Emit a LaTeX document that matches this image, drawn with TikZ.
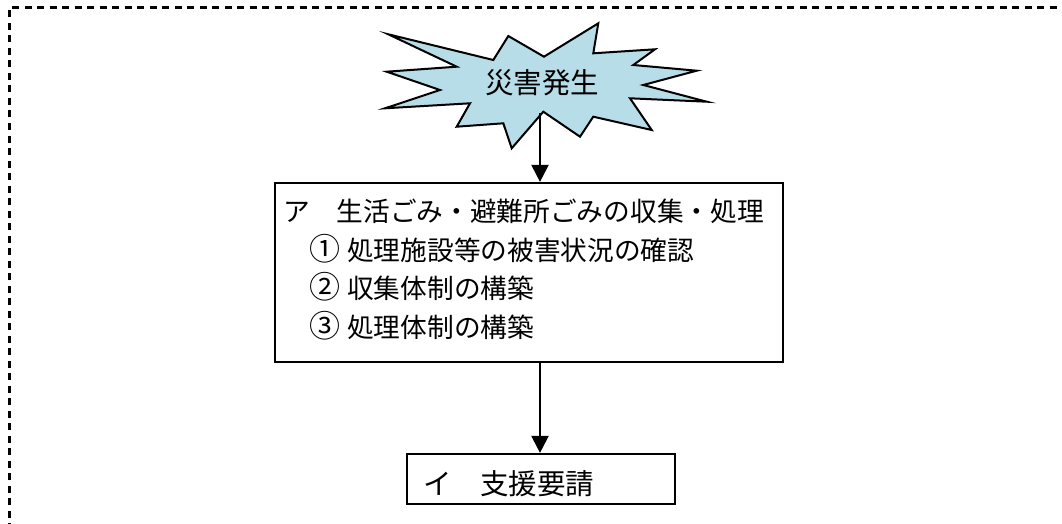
\documentclass[tikz,border=0pt]{standalone}
\usepackage{fontspec}
\newfontfamily\cjk{Noto Sans CJK JP}
\usetikzlibrary{arrows.meta}
\definecolor{burstblue}{HTML}{B7DDE8}
\tikzset{
  borderline/.style={line width=2.2pt, dash pattern=on 7pt off 5.5pt},
  boxstyle/.style={draw, line width=2.2pt, rectangle, inner sep=0pt},
  burststyle/.style={draw, fill=burstblue, line width=2pt, line join=miter},
  arr/.style={line width=2.2pt, -{Triangle[width=17pt,length=17pt]}},
  boxtxt/.style={inner sep=0pt, anchor=base west, font=\cjk\fontsize{26.7}{30}\selectfont},
  bigtxt/.style={inner sep=0pt, font=\cjk\fontsize{28.5}{32}\selectfont},
}
\newcommand{\circnum}[1]{{\fontsize{31}{31}\selectfont #1}}
\begin{document}
\begin{tikzpicture}[x=1pt,y=-1pt]
\useasboundingbox (0,0) rectangle (1062,524);
% dashed frame (left and top)
\draw[borderline] (9.5,530) -- (9.5,7.5) -- (1070,7.5);
% starburst
\draw[burststyle] (388.3,34.3) -- (493.3,60) -- (508.3,36) -- (544,56.7) -- (598.3,23.3)
  -- (593.3,53.3) -- (655,49.3) -- (633.3,65) -- (696.7,70.7) -- (643.3,85)
  -- (706.7,101.7) -- (630,98.3) -- (651.7,130) -- (593.3,116.7) -- (580,136.7)
  -- (543.3,111.7) -- (511.7,148.3) -- (503.3,123.3) -- (456.7,126.7) -- (470,103.3)
  -- (385,108.3) -- (440,90) -- (386.7,71.7) -- (456.7,66.7) -- cycle;
\node[bigtxt, anchor=base] (burst) at (542,94) {災害発生};
\coordinate (bs) at (540,113);
% boxes
\node[boxstyle, minimum width=508pt, minimum height=179pt] (box1) at (529,272.5) {};
\node[boxstyle, minimum width=268pt, minimum height=50pt] (box2) at (541,479) {};
% box 1 text
\node[boxtxt] (l1) at (283,221) {ア　生活ごみ・避難所ごみの収集・処理};
\node[boxtxt] (l2) at (309,260) {\circnum{①}\kern7pt 処理施設等の被害状況の確認};
\node[boxtxt] (l3) at (309,298) {\circnum{②}\kern7pt 収集体制の構築};
\node[boxtxt] (l4) at (309,337) {\circnum{③}\kern7pt 処理体制の構築};
% box 2 text
\node[bigtxt, anchor=base west] (l5) at (423,494) {イ　支援要請};
% arrows
\draw[arr] (bs) -- (bs |- box1.north);
\draw[arr] (box1.south -| bs) -- (box2.north -| bs);
\end{tikzpicture}
\end{document}
